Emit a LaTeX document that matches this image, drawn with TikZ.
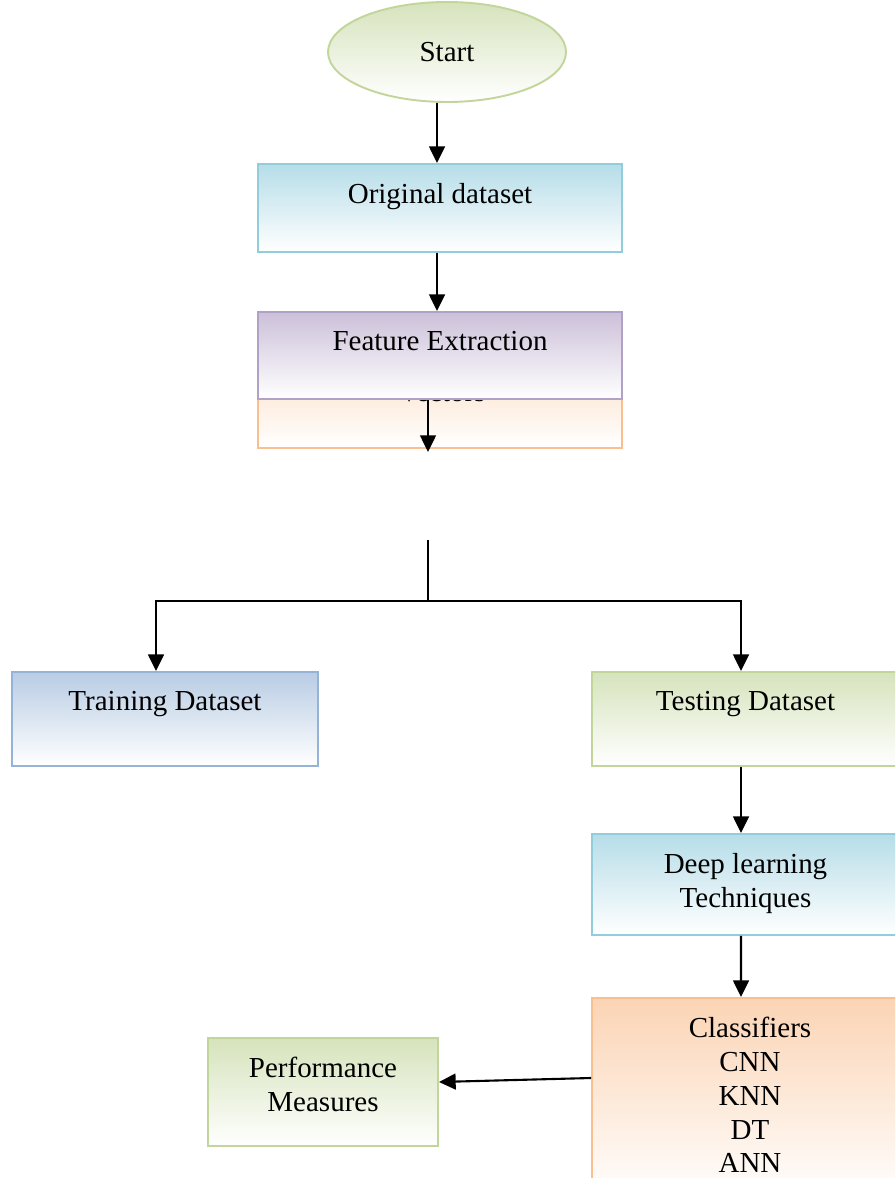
\documentclass[tikz,border=0pt]{standalone}
\usepackage{fontspec}
\setmainfont{Liberation Serif}
\usetikzlibrary{arrows.meta,positioning,shapes.geometric}
\definecolor{leafline}{HTML}{C2D69B}
\definecolor{leaffill}{HTML}{D6E3BC}
\definecolor{aqualine}{HTML}{92CDDC}
\definecolor{aquafill}{HTML}{B6DDE8}
\definecolor{lilacline}{HTML}{B2A1C7}
\definecolor{lilacfill}{HTML}{CCC0D9}
\definecolor{peachline}{HTML}{FABF8F}
\definecolor{peachfill}{HTML}{FBD4B4}
\definecolor{skyline}{HTML}{95B3D7}
\definecolor{skyfill}{HTML}{B8CCE4}
\tikzset{
  flowbox/.style={draw=#1line,top color=#1fill,bottom color=white,
                  line width=1.1pt,inner sep=0pt},
  boxtext/.style={align=center,inner sep=0pt},
  wire/.style={line width=1.2pt},
  flowarrow/.style={wire,-{Triangle[length=9.5pt,width=9pt]}}
}

\begin{document}
\begin{tikzpicture}[font=\fontsize{16.5}{19.2}\selectfont]
  \useasboundingbox (0,0) rectangle (17.9,-23.56);
  \clip (0,0) rectangle (17.9,-23.56);
  % upper chain
  \node[flowbox=leaf,ellipse,minimum width=4.76cm,minimum height=2cm] (start) at (8.94,-1.04) {Start};
  \node[flowbox=aqua,minimum width=7.28cm,minimum height=1.76cm] (orig) at (8.8,-4.16) {};
  \node[boxtext,below=0.4cm of orig.north] (origtxt) {Original dataset};
  \node[flowbox=peach,minimum width=7.28cm,minimum height=2.36cm] (vec) at (8.8,-7.78) {};
  \node[boxtext,anchor=base] (vectxt) at (8.84,-8.03) {Vectors};
  \node[flowbox=lilac,minimum width=7.28cm,minimum height=1.74cm] (feat) at (8.8,-7.11) {};
  \node[boxtext,below=0.4cm of feat.north] (feattxt) {Feature Extraction};
  % datasets
  \node[flowbox=sky,minimum width=6.12cm,minimum height=1.88cm] (train) at (3.3,-14.38) {};
  \node[boxtext,below=0.4cm of train.north] (traintxt) {Training Dataset};
  \node[flowbox=leaf,minimum width=6.14cm,minimum height=1.88cm] (test) at (14.91,-14.38) {};
  \node[boxtext,below=0.4cm of test.north] (testtxt) {Testing Dataset};
  % right column
  \node[flowbox=aqua,minimum width=6.14cm,minimum height=2.02cm] (deep) at (14.91,-17.69) {};
  \node[boxtext,below=0.4cm of deep.north] (deeptxt) {Deep learning\\Techniques};
  \node[flowbox=peach,minimum width=6.32cm,minimum height=4.04cm] (clf) at (15,-21.98) {};
  \node[boxtext,below=0.4cm of clf.north] (clftxt) {Classifiers\\CNN\\KNN\\DT\\ANN};
  \node[flowbox=leaf,minimum width=4.6cm,minimum height=2.16cm] (perf) at (6.46,-21.84) {};
  \node[boxtext,below=0.4cm of perf.north] (perftxt) {Performance\\Measures};
  % connectors
  \coordinate (fvend) at (8.56,-9.04);
  \coordinate (stub) at (8.56,-10.8);
  \coordinate (split) at (8.56,-12.02);
  \draw[flowarrow] ([xshift=-0.06cm]start.south -| orig.north) -- ([xshift=-0.06cm]orig.north);
  \draw[flowarrow] ([xshift=-0.06cm]orig.south) -- ([xshift=-0.06cm]feat.north);
  \draw[flowarrow] (feat.south -| fvend) -- (fvend);
  \draw[wire] (stub) -- (split);
  \draw[flowarrow] (split) -| ([xshift=-0.18cm]train.north);
  \draw[flowarrow] (split) -| ([xshift=-0.09cm]test.north);
  \draw[flowarrow] ([xshift=-0.09cm]test.south) -- ([xshift=-0.09cm]deep.north);
  \draw[flowarrow] ([xshift=-0.09cm]deep.south) -- ([xshift=-0.18cm]clf.north);
  \draw[flowarrow] ([yshift=0.42cm]clf.west) -- ([yshift=0.2cm]perf.east);
\end{tikzpicture}
\end{document}
